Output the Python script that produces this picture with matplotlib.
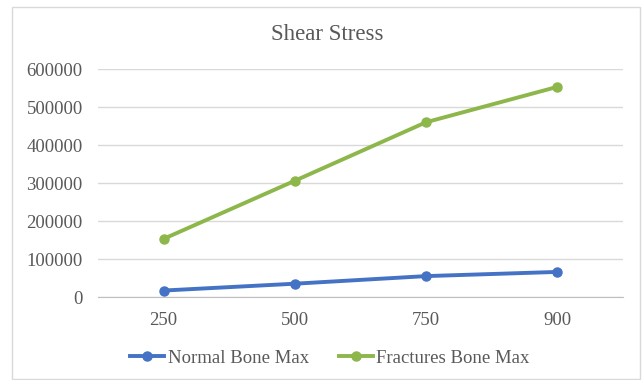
import matplotlib.pyplot as plt
from matplotlib.patches import Rectangle

# datos
categorias = ["250", "500", "750", "900"]
normal_bone_max = [17000, 35000, 55000, 66000]
fractures_bone_max = [153000, 306000, 460000, 553000]
y_ticks = [0, 100000, 200000, 300000, 400000, 500000, 600000]

AZUL = "#4472C4"
VERDE = "#8DB64B"
GRIS_TEXTO = "#595959"
GRIS_REJILLA = "#D9D9D9"

plt.rcParams["font.family"] = ["Liberation Serif", "DejaVu Serif"]

fig = plt.figure(figsize=(6.42, 3.80), dpi=100)
# marco del grafico
fig.patches.append(Rectangle((12 / 642, 1 / 380), 628 / 642, 372 / 380,
                             transform=fig.transFigure, fill=False,
                             edgecolor="#D9D9D9", linewidth=1))

ax = fig.add_axes([98 / 642, 1 - 297 / 380, 525 / 642, 228 / 380])
x = range(len(categorias))
ax.plot(x, normal_bone_max, color=AZUL, linewidth=2.8, marker="o",
        markersize=6.5, label="Normal Bone Max")
ax.plot(x, fractures_bone_max, color=VERDE, linewidth=2.8, marker="o",
        markersize=6.5, label="Fractures Bone Max")

ax.set_xlim(-0.5, len(categorias) - 0.5)
ax.set_ylim(0, 600000)
ax.set_xticks(list(x))
ax.set_xticklabels(categorias)
ax.set_yticks(y_ticks)
ax.set_yticklabels([str(v) for v in y_ticks])
ax.tick_params(axis="both", length=0, labelsize=13.5, colors=GRIS_TEXTO)
ax.tick_params(axis="x", pad=11)
ax.tick_params(axis="y", pad=11)
ax.grid(axis="y", color=GRIS_REJILLA, linewidth=1)
ax.set_axisbelow(True)
for lado in ["top", "right", "left"]:
    ax.spines[lado].set_visible(False)
ax.spines["bottom"].set_color("#BFBFBF")
ax.set_clip_on(False)

fig.text(327 / 642, 1 - 35 / 380, "Shear Stress", ha="center", va="center",
         fontsize=16.5, color=GRIS_TEXTO)
fig.legend(loc="center", bbox_to_anchor=(330 / 642, 1 - 358 / 380), ncol=2,
           frameon=False, fontsize=13.5, labelcolor=GRIS_TEXTO,
           handlelength=1.8, columnspacing=1.6, handletextpad=0.2)

fig.savefig("out.png", dpi=100)
